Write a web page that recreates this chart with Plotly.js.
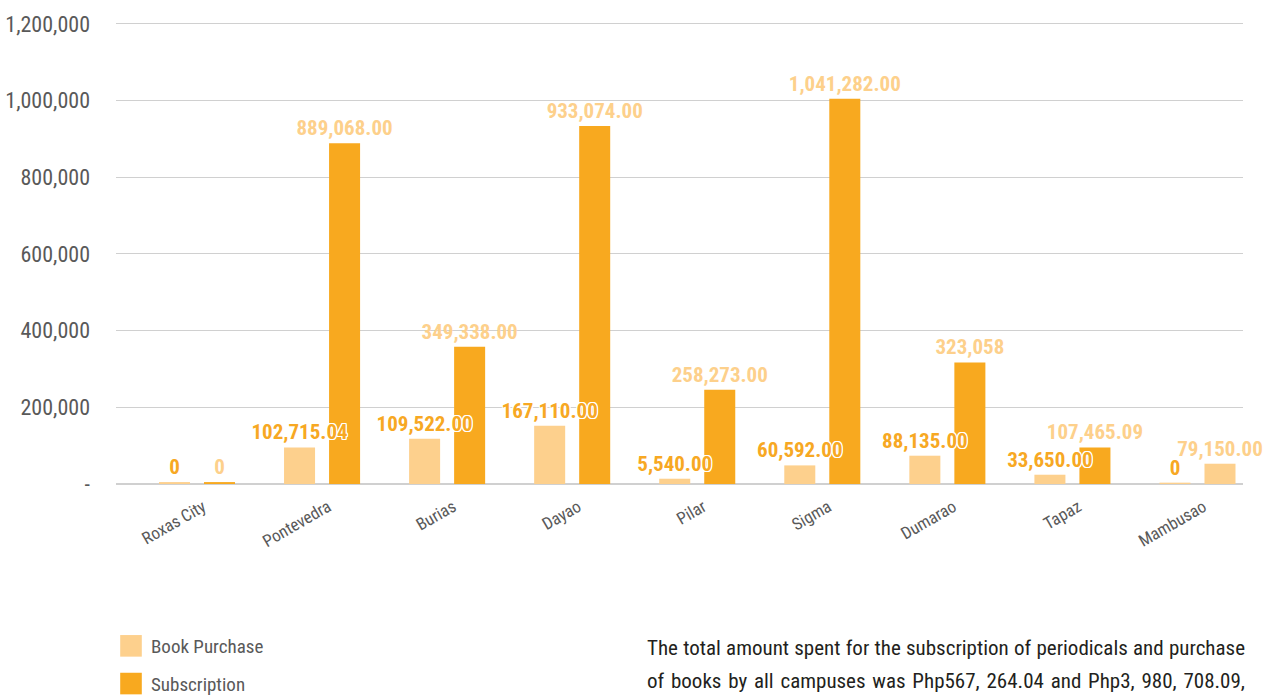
<!DOCTYPE html>
<html>
<head>
<meta charset="utf-8">
<script src="https://cdn.plot.ly/plotly-3.0.1.min.js"></script>
<style>
html,body{margin:0;padding:0;background:#fff;}
#chart{width:1271px;height:696px;}
</style>
</head>
<body>
<div id="chart"></div>
<script>
// ---- data ----
const campuses = ["Roxas City","Pontevedra","Burias","Dayao","Pilar","Sigma","Dumarao","Tapaz","Mambusao"];
const bookPurchase = [5000, 95400, 118100, 152000, 13800, 48500, 73800, 24200, 3500];
const subscription = [5000, 889068, 358000, 934000, 245800, 1004500, 317000, 95400, 52900];
const bookLabels = ["0","102,715.04","109,522.00","167,110.00","5,540.00","60,592.00","88,135.00","33,650.00","0"];
const subLabels = ["0","889,068.00","349,338.00","933,074.00","258,273.00","1,041,282.00","323,058","107,465.09","79,150.00"];
const yTickVals = [0, 200000, 400000, 600000, 800000, 1000000, 1200000];
const yTickText = ["-", "200,000", "400,000", "600,000", "800,000", "1,000,000", "1,200,000"];
const seriesNames = ["Book Purchase", "Subscription"];
const noteLines = [
  "The total amount spent for the subscription of periodicals and purchase",
  "of books by all campuses was Php567, 264.04 and Php3, 980, 708.09,"
];

// ---- styles ----
const COND = '"Roboto Condensed", "Open Sans Condensed", sans-serif';
const LIGHT = '#fdd08d';
const ORANGE = '#f8a91f';
const OUTLINE = '1px 1px 0 #fff, -1px -1px 0 #fff, 1px -1px 0 #fff, -1px 1px 0 #fff, 0 1px 0 #fff, 0 -1px 0 #fff, 1px 0 0 #fff, -1px 0 0 #fff';

const subColors = campuses.map((c, i) => i === campuses.length - 1 ? LIGHT : ORANGE);

// subscription trace first so Book Purchase labels sit on top of it (as in the reference)
const data = [
  {
    type: 'bar', name: seriesNames[1], x: campuses, y: subscription,
    width: 0.248, offset: 0.056,
    marker: {color: subColors},
    text: subLabels, textposition: 'outside', constraintext: 'none', cliponaxis: false,
    textfont: {family: COND, size: 21, weight: 'bold', color: '#fdd08b'},
    legendgroup: 'b', legendrank: 2
  },
  {
    type: 'bar', name: seriesNames[0], x: campuses, y: bookPurchase,
    width: 0.248, offset: -0.304,
    marker: {color: LIGHT},
    text: bookLabels, textposition: 'outside', constraintext: 'none', cliponaxis: false,
    textfont: {family: COND, size: 21, weight: 'bold', color: '#f7a823', shadow: OUTLINE},
    legendgroup: 'a', legendrank: 1
  }
];

const annotations = noteLines.map((t, i) => ({
  xref: 'paper', yref: 'paper',
  x: (645 - 116) / 1127, y: i === 0 ? -0.354 : -0.427,
  xanchor: 'left', yanchor: 'middle', align: 'left',
  text: t, showarrow: false,
  font: {family: COND, size: 21, color: '#231f20'}
}));

const layout = {
  width: 1271, height: 696,
  margin: {l: 116, r: 28, t: 22, b: 212, autoexpand: false},
  paper_bgcolor: '#ffffff', plot_bgcolor: '#ffffff',
  barmode: 'overlay',
  font: {family: COND, color: '#595959'},
  xaxis: {
    type: 'category', range: [-0.6477, 8.364], automargin: false,
    showgrid: false, zeroline: false, showline: false,
    tickangle: -30, tickfont: {family: COND, size: 17, color: '#595959'},
    ticks: '', ticklabelstandoff: 9, ticklabelshift: 6
  },
  yaxis: {
    range: [0, 1205000], tickvals: yTickVals, ticktext: yTickText, automargin: false,
    showgrid: true, gridcolor: '#d0d0d0', gridwidth: 1,
    zeroline: true, zerolinecolor: '#d0d0d0', zerolinewidth: 2,
    showline: false, ticks: '', ticklabelstandoff: 25,
    tickfont: {family: COND, size: 22, color: '#595959'}
  },
  showlegend: true,
  legend: {
    orientation: 'v', xref: 'container', yref: 'container',
    x: 111 / 1271, xanchor: 'left', y: (696 - 627) / 696, yanchor: 'top',
    font: {family: COND, size: 19, color: '#595959'},
    tracegroupgap: 10, bgcolor: 'rgba(0,0,0,0)', traceorder: 'grouped'
  },
  annotations: annotations
};

Plotly.newPlot('chart', data, layout, {staticPlot: true, displayModeBar: false}).then(gd => {
  gd.querySelectorAll('.legendpoints path').forEach(p => {
    const old = p.getAttribute('transform') || '';
    p.setAttribute('transform', old + ' scale(1.8)');
  });
  const target = 1243 - 645;
  gd.querySelectorAll('.annotation-text').forEach(el => {
    const txt = el.textContent;
    if (noteLines.indexOf(txt) === -1) return;
    const w = el.getComputedTextLength();
    const spaces = (txt.match(/ /g) || []).length;
    if (spaces > 0 && w < target) el.style.wordSpacing = ((target - w) / spaces) + 'px';
  });
});
</script>
</body>
</html>
